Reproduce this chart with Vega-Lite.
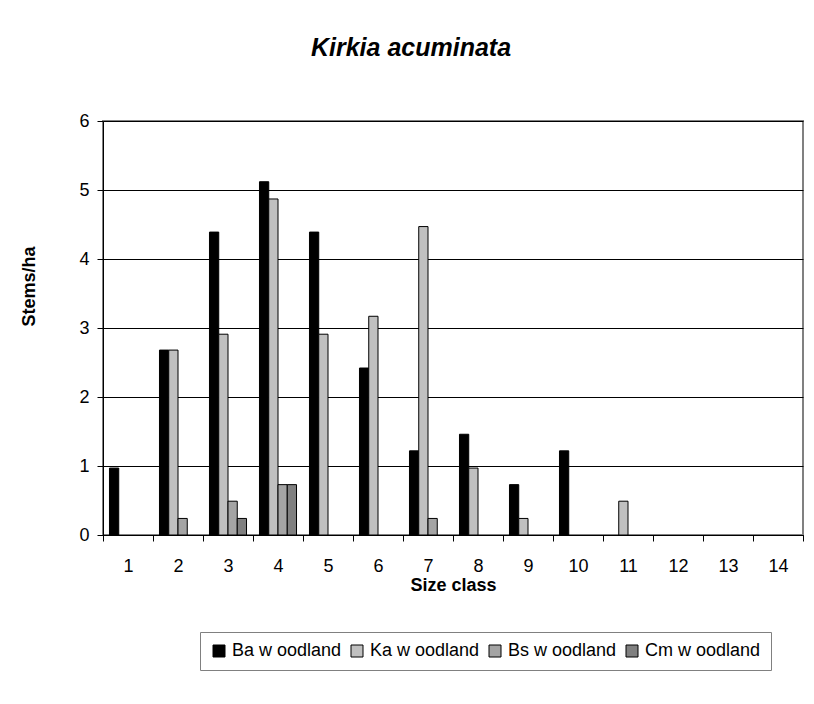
{
  "$schema": "https://vega.github.io/schema/vega-lite/v6.json",
  "width": 700,
  "height": 414,
  "autosize": {"type": "none"},
  "padding": {"left": 103, "top": 121, "right": 11, "bottom": 169},
  "background": "white",
  "title": {"text": "Kirkia acuminata", "fontSize": 25, "fontWeight": "bold", "fontStyle": "italic", "font": "Liberation Sans", "color": "black", "anchor": "middle", "offset": 51, "dx": -42},
  "data": {"values": [
    {"class": 1, "site": "Ba w oodland", "value": 0.97},
    {"class": 2, "site": "Ba w oodland", "value": 2.68},
    {"class": 2, "site": "Ka w oodland", "value": 2.68},
    {"class": 2, "site": "Bs w oodland", "value": 0.24},
    {"class": 3, "site": "Ba w oodland", "value": 4.39},
    {"class": 3, "site": "Ka w oodland", "value": 2.91},
    {"class": 3, "site": "Bs w oodland", "value": 0.49},
    {"class": 3, "site": "Cm w oodland", "value": 0.24},
    {"class": 4, "site": "Ba w oodland", "value": 5.12},
    {"class": 4, "site": "Ka w oodland", "value": 4.87},
    {"class": 4, "site": "Bs w oodland", "value": 0.73},
    {"class": 4, "site": "Cm w oodland", "value": 0.73},
    {"class": 5, "site": "Ba w oodland", "value": 4.39},
    {"class": 5, "site": "Ka w oodland", "value": 2.91},
    {"class": 6, "site": "Ba w oodland", "value": 2.42},
    {"class": 6, "site": "Ka w oodland", "value": 3.17},
    {"class": 7, "site": "Ba w oodland", "value": 1.22},
    {"class": 7, "site": "Ka w oodland", "value": 4.47},
    {"class": 7, "site": "Bs w oodland", "value": 0.24},
    {"class": 8, "site": "Ba w oodland", "value": 1.46},
    {"class": 8, "site": "Ka w oodland", "value": 0.97},
    {"class": 9, "site": "Ba w oodland", "value": 0.73},
    {"class": 9, "site": "Ka w oodland", "value": 0.24},
    {"class": 10, "site": "Ba w oodland", "value": 1.22},
    {"class": 11, "site": "Ka w oodland", "value": 0.49}
  ]},
  "mark": {"type": "bar", "stroke": "black", "strokeWidth": 1},
  "encoding": {
    "x": {
      "field": "class", "type": "ordinal",
      "scale": {"domain": [1,2,3,4,5,6,7,8,9,10,11,12,13,14], "paddingInner": 0, "paddingOuter": 0},
      "axis": {"title": "Size class", "labelAngle": 0, "tickBand": "extent", "tickSize": 6, "labelPadding": 16, "titlePadding": 1, "grid": false}
    },
    "xOffset": {
      "field": "site",
      "scale": {"domain": ["Ba w oodland", "Ka w oodland", "Bs w oodland", "Cm w oodland"], "paddingInner": 0, "paddingOuter": 0.7}
    },
    "y": {
      "field": "value", "type": "quantitative",
      "scale": {"domain": [0, 6]},
      "axis": {"title": "Stems/ha", "values": [0,1,2,3,4,5,6], "grid": true, "gridColor": "black", "gridOpacity": 1, "gridWidth": 1, "tickSize": 6, "labelPadding": 8, "titlePadding": 40, "titleY": 165}
    },
    "color": {
      "field": "site", "type": "nominal",
      "scale": {"domain": ["Ba w oodland", "Ka w oodland", "Bs w oodland", "Cm w oodland"], "range": ["#000000", "#c0c0c0", "#a4a4a4", "#808080"]},
      "legend": {"title": null, "orient": "none", "legendX": 97, "legendY": 511, "direction": "horizontal", "symbolType": "square", "symbolSize": 144, "symbolStrokeColor": "black", "symbolStrokeWidth": 1, "symbolOpacity": 1, "labelFontSize": 18, "labelOffset": 4, "columnPadding": 6, "strokeColor": "#808080", "padding": 10, "fillColor": "white"}
    }
  },
  "config": {
    "font": "Liberation Sans",
    "view": {"stroke": "#808080", "strokeWidth": 2},
    "axis": {"labelFontSize": 18, "titleFontSize": 18, "titleFontWeight": "bold", "labelColor": "black", "titleColor": "black", "domainColor": "black", "tickColor": "black", "domainWidth": 1, "tickWidth": 1, "labelFont": "Liberation Sans", "titleFont": "Liberation Sans"},
    "legend": {"labelColor": "black", "labelFont": "Liberation Sans"}
  }
}
